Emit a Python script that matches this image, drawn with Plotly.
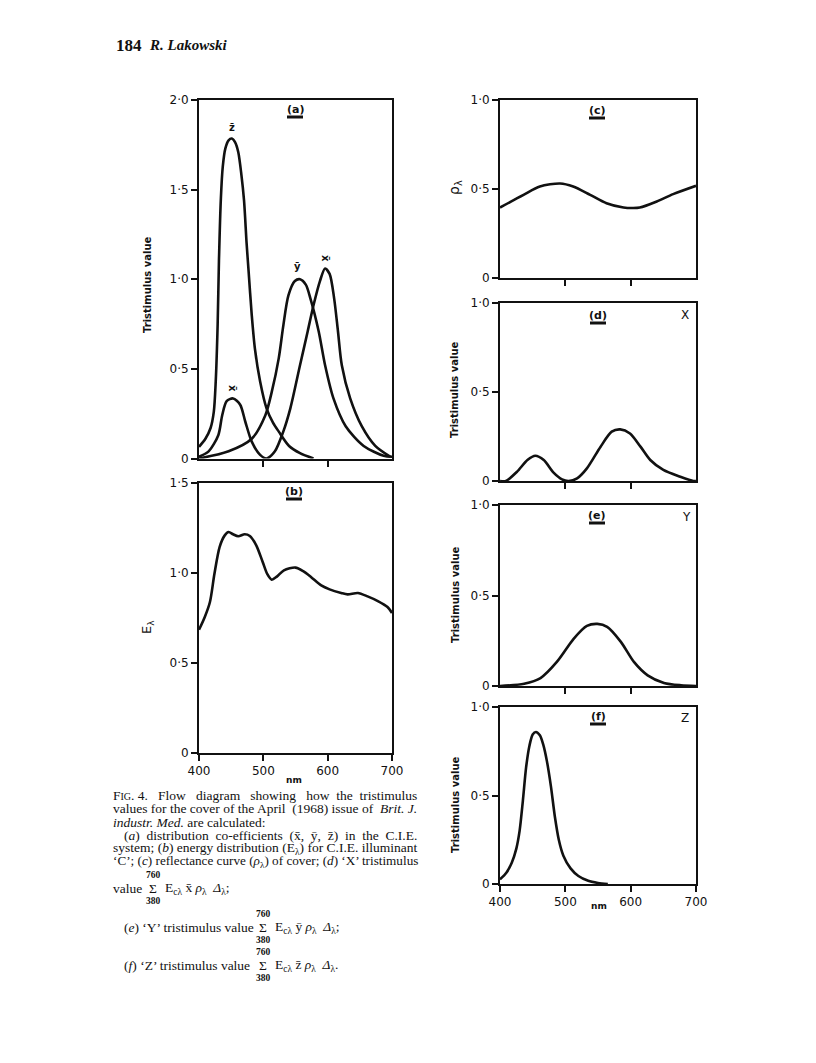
import plotly.graph_objects as go

# (a) C.I.E. distribution coefficients
zbar_nm = [400, 410, 418, 423, 426, 429, 431, 434, 437, 441, 446, 451, 456, 461, 466, 470, 474, 477, 482, 487, 495, 505, 515, 524, 540, 557, 578]
zbar_val = [0.065, 0.11, 0.17, 0.26, 0.43, 0.75, 1.1, 1.45, 1.63, 1.73, 1.775, 1.785, 1.765, 1.71, 1.58, 1.44, 1.2, 1.05, 0.8, 0.61, 0.43, 0.28, 0.2, 0.15, 0.07, 0.03, 0.0]

ybar_nm = [400, 446, 482, 503, 513, 524, 531, 539, 549, 557, 566, 573, 586, 596, 609, 628, 656, 687, 700]
ybar_val = [0.0, 0.04, 0.11, 0.24, 0.37, 0.56, 0.74, 0.91, 0.99, 1.0, 0.97, 0.895, 0.71, 0.52, 0.335, 0.18, 0.07, 0.015, 0.01]

xbar_nm = [400, 415, 430, 436, 443, 453, 464, 472, 482, 495, 505, 518, 531, 542, 557, 569, 578, 588, 596, 603, 610, 616, 622, 635, 653, 674, 697]
xbar_val = [0.01, 0.04, 0.13, 0.24, 0.32, 0.335, 0.30, 0.205, 0.094, 0.02, 0.0, 0.04, 0.15, 0.28, 0.52, 0.71, 0.855, 0.99, 1.06, 1.03, 0.895, 0.71, 0.52, 0.335, 0.18, 0.07, 0.01]

# (b) energy distribution E-lambda, illuminant C
e_nm = [400, 409, 417, 424, 432, 440, 446, 453, 461, 471, 479, 489, 499, 506, 513, 521, 532, 550, 562, 574, 590, 603, 621, 631, 647, 662, 678, 693, 700]
e_val = [0.685, 0.756, 0.839, 0.996, 1.144, 1.209, 1.228, 1.215, 1.204, 1.215, 1.206, 1.154, 1.061, 0.995, 0.963, 0.98, 1.015, 1.03, 1.01, 0.978, 0.931, 0.909, 0.889, 0.881, 0.889, 0.87, 0.844, 0.811, 0.778]

# (c) reflectance of cover
rho_nm = [400, 436, 461, 492, 512, 538, 563, 589, 604, 614, 640, 665, 700]
rho_val = [0.396, 0.467, 0.514, 0.531, 0.514, 0.467, 0.42, 0.396, 0.393, 0.396, 0.43, 0.471, 0.518]

# (d) X, (e) Y, (f) Z tristimulus products
X_nm = [400, 409, 426, 442, 454, 467, 482, 495, 505, 518, 533, 554, 571, 584, 599, 615, 630, 650, 676, 696, 700]
X_val = [0.0, 0.0, 0.052, 0.118, 0.142, 0.118, 0.047, 0.009, 0.0, 0.015, 0.071, 0.193, 0.277, 0.29, 0.267, 0.193, 0.118, 0.062, 0.024, 0.0, 0.0]

Y_nm = [400, 437, 462, 487, 513, 533, 549, 564, 585, 605, 626, 651, 677, 700]
Y_val = [0.0, 0.013, 0.044, 0.133, 0.262, 0.332, 0.343, 0.327, 0.244, 0.133, 0.059, 0.017, 0.004, 0.0]

Z_nm = [400, 410, 418, 425, 430, 435, 440, 445, 450, 455, 461, 466, 472, 478, 484, 490, 497, 508, 520, 535, 550, 565]
Z_val = [0.026, 0.065, 0.12, 0.2, 0.3, 0.47, 0.66, 0.78, 0.845, 0.859, 0.84, 0.79, 0.69, 0.55, 0.38, 0.25, 0.16, 0.088, 0.045, 0.018, 0.006, 0.0]

x_ticks = [400, 500, 600, 700]
x_ticktext = ['400', '500', '600', '700']

W, H = 816, 1063
INK = '#111111'


def xdom(left, right):
    return [left / W, right / W]


def ydom(top, bottom):
    return [1 - bottom / H, 1 - top / H]


def px(x):
    return x / W


def py(y):
    return 1 - y / H


fig = go.Figure()

# panels: axis suffix, x pixel span, y pixel span, y max, y ticks, x labels shown
panels = [
    ('', (199, 392), (100, 458.5), 2.0, [0, 0.5, 1.0, 1.5, 2.0], ['0', '0·5', '1·0', '1·5', '2·0'], False),
    ('2', (199, 392), (483, 753), 1.5, [0, 0.5, 1.0, 1.5], ['0', '0·5', '1·0', '1·5'], True),
    ('3', (500, 696), (100, 278), 1.0, [0, 0.5, 1.0], ['0', '0·5', '1·0'], False),
    ('4', (500, 696), (303, 481), 1.0, [0, 0.5, 1.0], ['0', '0·5', '1·0'], False),
    ('5', (500, 696), (505, 686), 1.0, [0, 0.5, 1.0], ['0', '0·5', '1·0'], False),
    ('6', (500, 696), (707, 884), 1.0, [0, 0.5, 1.0], ['0', '0·5', '1·0'], True),
]

common = dict(showline=True, linecolor=INK, linewidth=2, mirror=True,
              ticks='outside', ticklen=6, tickwidth=2, tickcolor=INK,
              showgrid=False, zeroline=False, fixedrange=True, automargin=False,
              tickfont=dict(family='DejaVu Sans', size=12, color=INK))

layout_axes = {}
for suf, xs, ys, ymax, yt, ytt, showx in panels:
    layout_axes['xaxis' + suf] = dict(common, domain=xdom(*xs), range=[400, 700],
                                      tickvals=x_ticks if showx else x_ticks[1:3],
                                      ticktext=x_ticktext if showx else x_ticktext[1:3],
                                      showticklabels=showx, anchor='y' + suf)
    layout_axes['yaxis' + suf] = dict(common, domain=ydom(*ys), range=[0, ymax],
                                      tickvals=yt, ticktext=ytt, anchor='x' + suf)

series = [
    ('', zbar_nm, zbar_val), ('', ybar_nm, ybar_val), ('', xbar_nm, xbar_val),
    ('2', e_nm, e_val), ('3', rho_nm, rho_val), ('4', X_nm, X_val),
    ('5', Y_nm, Y_val), ('6', Z_nm, Z_val),
]
for suf, xs, ys in series:
    fig.add_trace(go.Scatter(x=xs, y=ys, mode='lines', xaxis='x' + suf, yaxis='y' + suf,
                             line=dict(color=INK, width=2.6, shape='spline', smoothing=0.8),
                             showlegend=False, hoverinfo='skip'))

ann = []


def note(x, y, text, size=11, family='DejaVu Sans', angle=0, xanchor='center'):
    ann.append(dict(x=px(x), y=py(y), xref='paper', yref='paper', text=text, showarrow=False,
                    textangle=angle, xanchor=xanchor, yanchor='middle',
                    font=dict(family=family, size=size, color=INK)))


# header
note(114, 45, '<b>184</b>', size=17, family='Liberation Serif', xanchor='left')
note(147, 45, '<b><i>R. Lakowski</i></b>', size=15, family='Liberation Serif', xanchor='left')

# axis titles
note(147, 285, '<b>Tristimulus value</b>', size=10, angle=-90)
note(147, 627, 'E<sub>λ</sub>', size=13, angle=-90)
note(455, 188, 'ρ<sub>λ</sub>', size=14, angle=-90)
note(455, 390, '<b>Tristimulus value</b>', size=10, angle=-90)
note(455, 595, '<b>Tristimulus value</b>', size=10, angle=-90)
note(455, 805, '<b>Tristimulus value</b>', size=10, angle=-90)
note(294, 780, '<b>nm</b>', size=9)
note(599, 906, '<b>nm</b>', size=9)

# panel tags
tags = [('(a)', 295, 109), ('(b)', 294, 491), ('(c)', 597, 110),
        ('(d)', 598, 315), ('(e)', 597, 515), ('(f)', 598, 716)]
shapes = []
for t, x, y in tags:
    note(x, y, '<b>' + t + '</b>', size=11)
    shapes.append(dict(type='line', xref='paper', yref='paper', x0=px(x - 8), x1=px(x + 8),
                       y0=py(y + 8), y1=py(y + 8), line=dict(color=INK, width=3)))

note(685, 315, 'X', size=12)
note(686, 517, 'Y', size=12)
note(685, 718, 'Z', size=12)

# curve labels in (a)
note(232, 127, '<b>z\u0304</b>', size=10)
note(297, 267, '<b>y\u0304</b>', size=10)
note(326, 258, '<b>x\u0304</b>', size=10, angle=90)
note(233, 388, '<b>x\u0304</b>', size=10, angle=90)

# caption (extra no-break spaces imitate the justified lines)
cap = 'Liberation Serif'
cs = 13.5
sp = '\u00a0'
note(111, 795, 'F<span style="font-size:10px">IG</span>. 4.' + sp * 3 + 'Flow' + sp * 3 + 'diagram' + sp * 3
     + 'showing' + sp * 3 + 'how' + sp * 2 + 'the' + sp * 2 + 'tristimulus', cs, cap, xanchor='left')
note(111, 808, 'values for the cover of the April' + sp * 2 + '(1968) issue of' + sp * 2 + '<i>Brit. J.</i>',
     cs, cap, xanchor='left')
note(111, 822, '<i>industr. Med.</i> are calculated:', cs, cap, xanchor='left')
note(122, 835, '(<i>a</i>)' + sp * 2 + 'distribution' + sp * 2 + 'co-efficients' + sp * 2 + '(x̄,' + sp * 2 + 'ȳ,'
     + sp * 2 + 'z̄)' + sp * 2 + 'in' + sp * 2 + 'the' + sp * 2 + 'C.I.E.', cs, cap, xanchor='left')
note(111, 848, 'system; (<i>b</i>) energy distribution (E<sub>λ</sub>) for C.I.E. illuminant', cs, cap, xanchor='left')
note(111, 861, '‘C’; (<i>c</i>) reflectance curve (<i>ρ</i><sub>λ</sub>) of cover; (<i>d</i>) ‘X’ tristimulus',
     13.2, cap, xanchor='left')

sums = [
    (111, 888, 'value', 151, 'E<sub>cλ</sub> x̄ <i>ρ</i><sub>λ</sub>  <i>Δ</i><sub>λ</sub>;'),
    (122, 927, '(<i>e</i>) ‘Y’ tristimulus value', 261, 'E<sub>cλ</sub> ȳ <i>ρ</i><sub>λ</sub>  <i>Δ</i><sub>λ</sub>;'),
    (122, 965, '(<i>f</i>) ‘Z’ tristimulus value', 261, 'E<sub>cλ</sub> z̄ <i>ρ</i><sub>λ</sub>  <i>Δ</i><sub>λ</sub>.'),
]
for x0, y0, lead, sx, tail in sums:
    note(x0, y0, lead, cs, cap, xanchor='left')
    note(sx + 2, y0, 'Σ', cs, cap)
    note(sx + 2, y0 - 13, '<b>760</b>', 9.5, cap)
    note(sx + 2, y0 + 13, '<b>380</b>', 9.5, cap)
    note(sx + 12, y0, tail, cs, cap, xanchor='left')

fig.update_layout(width=W, height=H,
                  margin=dict(l=0, r=0, t=0, b=0, pad=0, autoexpand=False),
                  paper_bgcolor='white', plot_bgcolor='white',
                  annotations=ann, shapes=shapes, showlegend=False, **layout_axes)

# drop the page's default body margin so the 816x1063 figure fills the window exactly
fig.write_html('out.html', config={'displayModeBar': False},
               post_script="document.body.style.margin='0';document.documentElement.style.overflow='hidden';")
